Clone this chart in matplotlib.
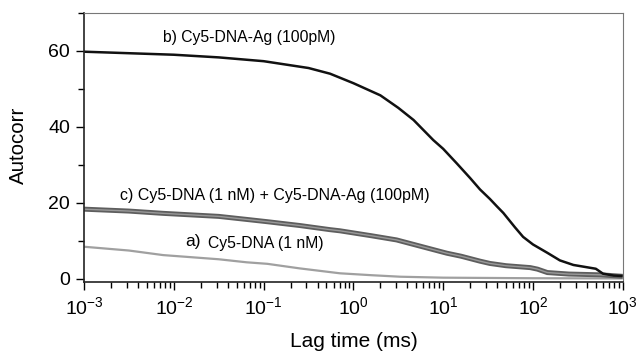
import matplotlib
matplotlib.use('Agg')
import matplotlib.pyplot as plt
from matplotlib.ticker import LogLocator, MultipleLocator, NullFormatter

plt.rcParams['font.family'] = ['Liberation Sans', 'DejaVu Sans']
plt.rcParams['mathtext.fontset'] = 'custom'
plt.rcParams['mathtext.rm'] = 'Liberation Sans'
plt.rcParams['mathtext.it'] = 'Liberation Sans:italic'
plt.rcParams['mathtext.bf'] = 'Liberation Sans:bold'

# 数据 (读图估计, 横轴为 log10(lag time / ms))
# b) Cy5-DNA-Ag (100pM)
logt_b = [-3, -2.5, -2, -1.5, -1, -0.5, -0.26, 0, 0.3, 0.5, 0.67, 0.89, 1.0, 1.15,
          1.3, 1.41, 1.52, 1.6, 1.67, 1.8, 1.89, 2.0, 2.16, 2.3, 2.45, 2.6, 2.7,
          2.78, 2.9, 3.0]
acf_b = [59.8, 59.4, 59.0, 58.3, 57.3, 55.5, 54.0, 51.5, 48.3, 45.0, 41.8, 36.5,
         34.2, 30.4, 26.5, 23.5, 21.0, 19.0, 17.3, 13.5, 11.0, 9.0, 6.8, 4.8,
         3.6, 3.0, 2.6, 1.3, 0.8, 0.7]

# c) Cy5-DNA (1 nM) + Cy5-DNA-Ag (100pM)
logt_c = [-3, -2.5, -2.12, -1.5, -1.19, -0.96, -0.6, -0.26, -0.15, 0.2, 0.48, 0.8,
          1.04, 1.2, 1.41, 1.52, 1.7, 1.97, 2.05, 2.16, 2.4, 2.75, 3.0]
acf_c = [18.3, 17.8, 17.2, 16.4, 15.6, 15.0, 14.0, 12.9, 12.6, 11.3, 10.2, 8.2,
         6.7, 5.9, 4.6, 4.0, 3.4, 2.9, 2.5, 1.6, 1.2, 1.0, 0.6]

# a) Cy5-DNA (1 nM)
logt_a = [-3, -2.5, -2.12, -1.5, -1.19, -0.96, -0.6, -0.15, 0.2, 0.52, 1.0, 2.0, 3.0]
acf_a = [8.4, 7.4, 6.2, 5.1, 4.3, 3.9, 2.7, 1.4, 0.9, 0.5, 0.25, 0.1, 0.05]

# 刻度
x_ticks = [1e-3, 1e-2, 1e-1, 1e0, 1e1, 1e2, 1e3]
x_ticklabels = ['$10^{-3}$', '$10^{-2}$', '$10^{-1}$', '$10^{0}$', '$10^{1}$', '$10^{2}$', '$10^{3}$']
y_ticks = [0, 20, 40, 60]

lag_b = [10 ** v for v in logt_b]
lag_c = [10 ** v for v in logt_c]
lag_a = [10 ** v for v in logt_a]

fig = plt.figure(figsize=(6.42, 3.57), dpi=100)
ax = fig.add_axes([0.131, 0.21, 0.839, 0.7536])

# 绘图
ax.plot(lag_a, acf_a, color='#a0a0a0', lw=1.6, solid_capstyle='butt')
ax.plot(lag_c, acf_c, color='#5e5e5e', lw=3.6, solid_capstyle='butt')
ax.plot(lag_c, acf_c, color='#9a9a9a', lw=1.0, solid_capstyle='butt')
ax.plot(lag_b, acf_b, color='#111111', lw=1.8, solid_capstyle='butt')

ax.set_xscale('log')
ax.set_xlim(1e-3, 1e3)
ax.set_ylim(-0.9, 70)

ax.set_xticks(x_ticks)
ax.set_xticklabels(x_ticklabels)
ax.xaxis.set_minor_locator(LogLocator(base=10, subs=range(2, 10), numticks=20))
ax.xaxis.set_minor_formatter(NullFormatter())
ax.set_yticks(y_ticks)
ax.yaxis.set_minor_locator(MultipleLocator(10))

ax.tick_params(which='major', direction='out', length=6, width=1, labelsize=14, pad=4)
ax.tick_params(which='minor', direction='out', length=4, width=1)

for s in ['top', 'right']:
    ax.spines[s].set_color('#777777')
for s in ['left', 'bottom']:
    ax.spines[s].set_color('#222222')
    ax.spines[s].set_linewidth(1.2)

ax.set_xlabel('Lag time (ms)', fontsize=15)
ax.set_ylabel('Autocorr', fontsize=14.8)
ax.xaxis.set_label_coords(0.5, -0.185)
ax.yaxis.set_label_coords(-0.104, 0.51)

# 标注
ax.text(0.147, 0.91, 'b) Cy5-DNA-Ag (100pM)', transform=ax.transAxes,
        fontsize=11.3, ha='left', va='center')
ax.text(0.067, 0.323, 'c) Cy5-DNA (1 nM) + Cy5-DNA-Ag (100pM)', transform=ax.transAxes,
        fontsize=11.5, ha='left', va='center')
ax.text(0.187, 0.15, 'a)', transform=ax.transAxes, fontsize=12.5, ha='left', va='center')
ax.text(0.23, 0.145, 'Cy5-DNA (1 nM)', transform=ax.transAxes,
        fontsize=11.3, ha='left', va='center')

plt.savefig('out.png', dpi=100)
